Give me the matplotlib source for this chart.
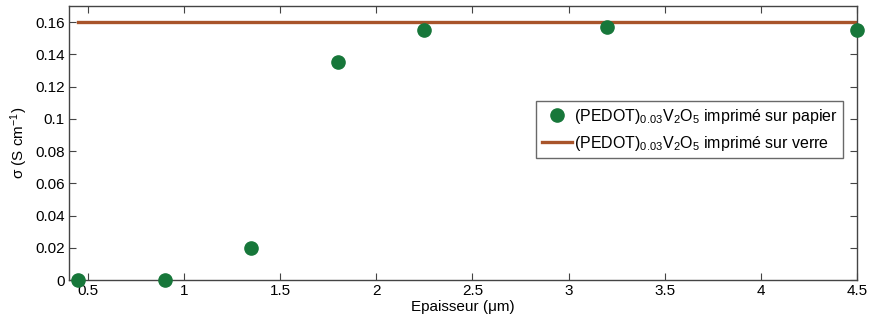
import matplotlib.pyplot as plt

plt.rcParams['font.family'] = ['Liberation Sans', 'DejaVu Sans']
plt.rcParams['mathtext.default'] = 'regular'

# Données
epaisseur = [0.45, 0.9, 1.35, 1.8, 2.25, 3.2, 4.5]
sigma_papier = [0.0, 0.0, 0.02, 0.135, 0.155, 0.157, 0.155]
verre_x = [0.45, 4.5]
sigma_verre = [0.16, 0.16]

fig = plt.figure(figsize=(8.7, 3.22), dpi=100)
ax = fig.add_axes([0.0793, 0.1304, 0.906, 0.851])

ax.plot(verre_x, sigma_verre, color='#a8542a', lw=2.4,
        label='(PEDOT)$_{0.03}$V$_2$O$_5$ imprimé sur verre', zorder=2)
ax.plot(epaisseur, sigma_papier, 'o', color='#17773a', ms=9.5, ls='none',
        label='(PEDOT)$_{0.03}$V$_2$O$_5$ imprimé sur papier', clip_on=False, zorder=3)

ax.set_xlim(0.403, 4.5)
ax.set_ylim(0, 0.17)
ax.set_xticks([0.5, 1, 1.5, 2, 2.5, 3, 3.5, 4, 4.5])
ax.set_xticklabels(['0.5', '1', '1.5', '2', '2.5', '3', '3.5', '4', '4.5'])
ax.set_yticks([0, 0.02, 0.04, 0.06, 0.08, 0.1, 0.12, 0.14, 0.16])
ax.set_yticklabels(['0', '0.02', '0.04', '0.06', '0.08', '0.1', '0.12', '0.14', '0.16'])
ax.tick_params(direction='in', top=True, right=True, length=5, labelsize=11, pad=3, color='#444444')
for s in ax.spines.values():
    s.set_color('#444444')
    s.set_linewidth(1.0)

ax.set_xlabel('Epaisseur (μm)', fontsize=11, labelpad=1)
ax.set_ylabel('σ (S cm$^{-1}$)', fontsize=11, labelpad=4)

handles, labels = ax.get_legend_handles_labels()
leg = ax.legend(handles[::-1], labels[::-1], loc='upper left', bbox_to_anchor=(0.593, 0.653),
                fontsize=11.5, frameon=True, fancybox=False, borderpad=0.35,
                handlelength=1.9, handletextpad=0.1, labelspacing=0.5, borderaxespad=0)
leg.get_frame().set_edgecolor('#444444')
leg.get_frame().set_linewidth(1.0)

fig.savefig('out.png', dpi=100)
